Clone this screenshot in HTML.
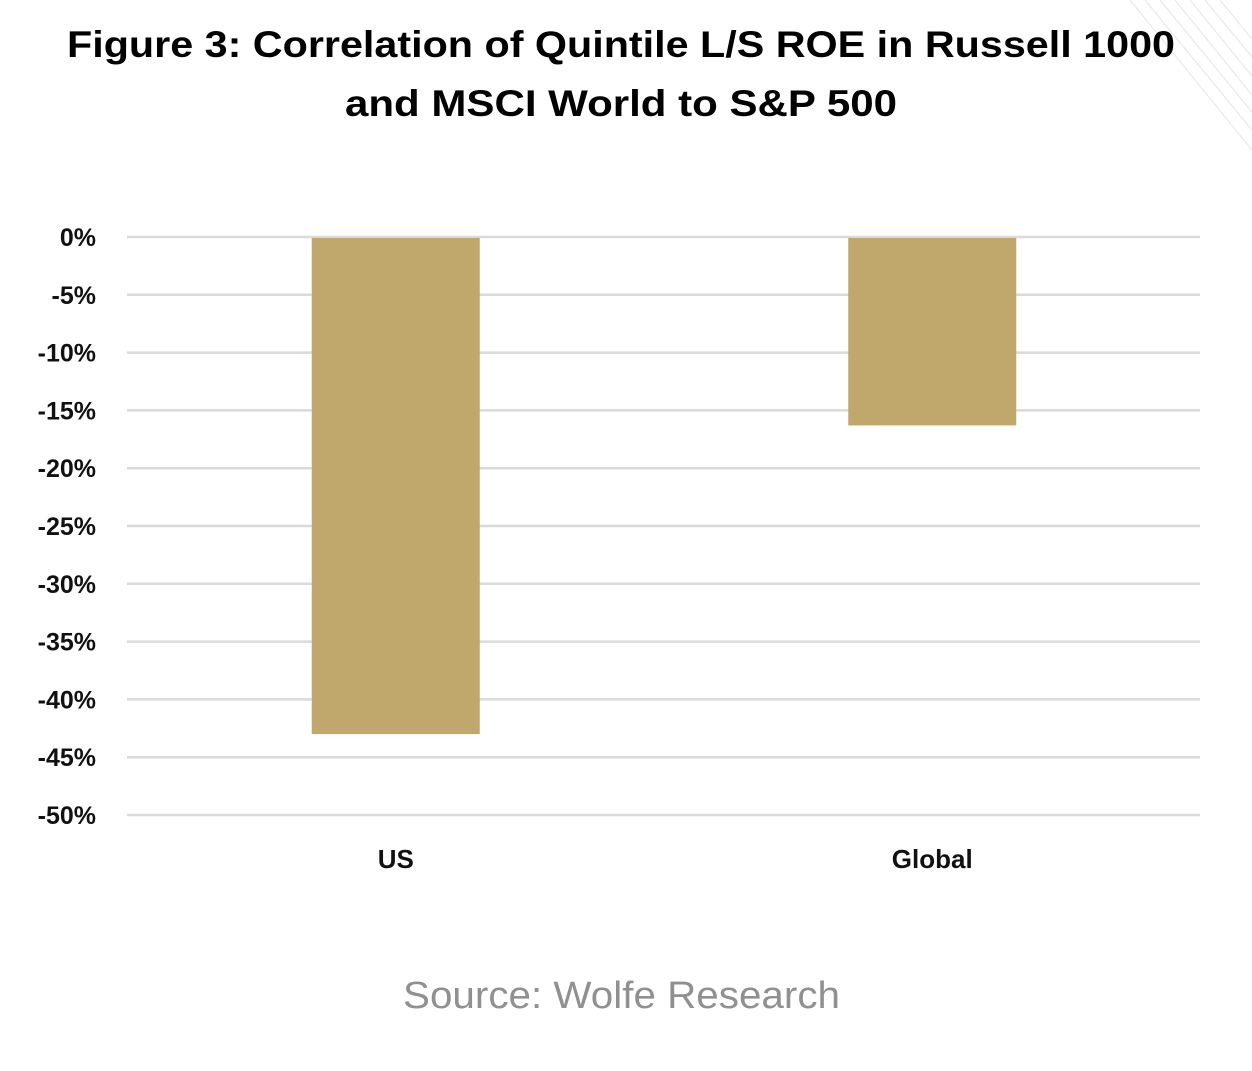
<!DOCTYPE html>
<html><head><meta charset="utf-8"><style>
body{margin:0;background:#fff;width:1252px;height:1066px;overflow:hidden;font-family:"Liberation Sans",sans-serif}
</style></head><body>
<svg width="1252" height="1066" xmlns="http://www.w3.org/2000/svg">
<g stroke="#e6e6e6" stroke-width="1">
<line x1="1130" y1="0" x2="1252" y2="150"/><line x1="1145" y1="0" x2="1252" y2="130"/><line x1="1160" y1="0" x2="1252" y2="112"/><line x1="1175" y1="0" x2="1252" y2="95"/><line x1="1190" y1="0" x2="1252" y2="76"/><line x1="1205" y1="0" x2="1252" y2="57"/><line x1="1220" y1="0" x2="1252" y2="39"/>
</g>
<text x="67" y="57" textLength="1108" lengthAdjust="spacingAndGlyphs" font-size="37" font-weight="bold" fill="#000">Figure 3: Correlation of Quintile L/S ROE in Russell 1000</text>
<text x="345" y="116" textLength="552" lengthAdjust="spacingAndGlyphs" font-size="37" font-weight="bold" fill="#000">and MSCI World to S&amp;P 500</text>
<g id="grid"></g>
<g id="yt"></g>
<g id="bars"></g>
<g id="xt"></g>
<text x="403" y="1008" textLength="437" lengthAdjust="spacingAndGlyphs" font-size="38" fill="#909090">Source: Wolfe Research</text>
</svg>
<script>
const categories=["US","Global"];
const values=[-43.0,-16.3];
const ticks=[0,-5,-10,-15,-20,-25,-30,-35,-40,-45,-50];
const tickLabels=["0%","-5%","-10%","-15%","-20%","-25%","-30%","-35%","-40%","-45%","-50%"];
const NS="http://www.w3.org/2000/svg";
const y0=237,y1=815,xL=127,xR=1200;
function y(v){return y0+(0-v)/50*(y1-y0);}
function xc(i){return xL+(xR-xL)*(i+0.5)/categories.length;}
const bw=168;
function mk(t,a,p){const e=document.createElementNS(NS,t);for(const k in a)e.setAttribute(k,a[k]);p.appendChild(e);return e;}
const g=document.getElementById('grid'),yt=document.getElementById('yt'),b=document.getElementById('bars'),xt=document.getElementById('xt');
ticks.forEach((t,i)=>{
 const l=mk('line',{x1:xL,x2:xR,y1:y(t),y2:y(t),stroke:'#dadada','stroke-width':2.5},g);
 
 
 const tx=mk('text',{x:96,y:y(t)+9,'text-anchor':'end','font-size':25,'font-weight':'bold',fill:'#111'},yt);
 tx.textContent=tickLabels[i];
 
 
});
values.forEach((v,i)=>{
 const r=mk('rect',{x:xc(i)-bw/2+0.5,y:y(0)+1,width:bw,height:y(v)-y(0)-1,fill:'#C0A76B'},b);
 
 
 const tx=mk('text',{x:xc(i)+0.5,y:868,'text-anchor':'middle','font-size':26,'font-weight':'bold',fill:'#111'},xt);
 tx.textContent=categories[i];
 
 
});
</script>
</body></html>
